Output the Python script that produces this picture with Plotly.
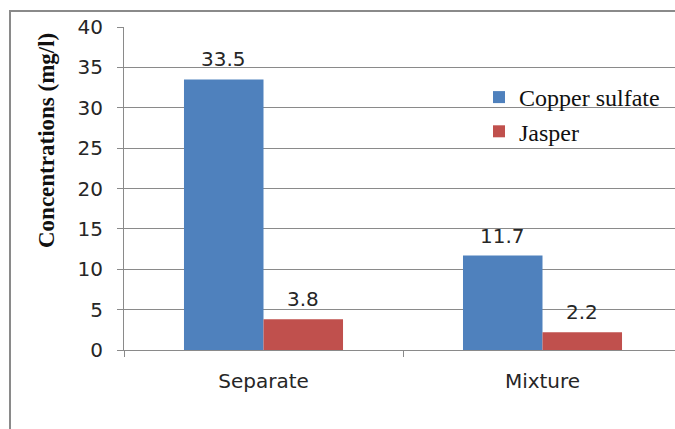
import plotly.graph_objects as go

categories = ["Separate", "Mixture"]
series_names = ["Copper sulfate", "Jasper"]
copper_sulfate = [33.5, 11.7]
jasper = [3.8, 2.2]
series_values = [copper_sulfate, jasper]
colors = ["#4F81BD", "#C0504D"]
y_ticks = [0, 5, 10, 15, 20, 25, 30, 35, 40]
y_title = "Concentrations (mg/l)"

W, H = 675, 429
ML, MR, MT, MB = 124, 0, 27, 79
bargap = 0.43
cat_px = 279.0
plot_w = W - ML - MR
plot_h = H - MT - MB

fig = go.Figure()
for name, vals, col in zip(series_names, series_values, colors):
    fig.add_trace(go.Bar(
        x=categories, y=vals, name=name, marker_color=col,
        marker_line_width=0,
    ))

# data labels
n = len(series_names)
grp = 1 - bargap
annotations = []
for k, vals in enumerate(series_values):
    off = -grp / 2 + grp / n * (k + 0.5)
    for i, v in enumerate(vals):
        annotations.append(dict(
            x=i + off, y=v, xref="x", yref="y", text=f"{v:.1f}",
            showarrow=False, yanchor="bottom", yshift=6,
            font=dict(family="DejaVu Sans", size=20, color="#262626"),
        ))

# y-axis title (placed like the original, above the axis centre)
annotations.append(dict(
    x=(46 - ML) / plot_w, y=(350 - 141) / plot_h, xref="paper", yref="paper",
    text=f"<b>{y_title}</b>", textangle=-90, showarrow=False,
    xanchor="center", yanchor="middle",
    font=dict(family="Liberation Serif", size=23, color="#111"),
))

grid = "#8a8a8a"
fig.update_layout(
    width=W, height=H,
    margin=dict(l=ML, r=MR, t=MT, b=MB, pad=0),
    paper_bgcolor="white", plot_bgcolor="white",
    barmode="group", bargap=bargap, bargroupgap=0,
    annotations=annotations,
    legend=dict(
        x=(479 - ML) / plot_w, y=(350 - 75) / plot_h,
        xanchor="left", yanchor="top",
        font=dict(family="Liberation Serif", size=24, color="#111"),
        bgcolor="rgba(0,0,0,0)", tracegroupgap=0,
        itemwidth=30,
    ),
    shapes=[dict(
        type="rect", xref="paper", yref="paper",
        x0=(10 - ML) / plot_w, x1=1.3,
        y0=-1.0, y1=(350 - 11) / plot_h,
        line=dict(color="#8a8a8a", width=2), fillcolor="rgba(0,0,0,0)",
        layer="below",
    )],
)

fig.update_xaxes(
    type="category", range=[-0.5, -0.5 + plot_w / cat_px],
    showline=True, linecolor=grid, linewidth=1,
    ticks="outside", tickson="boundaries", ticklen=6, tickcolor=grid,
    tickfont=dict(family="DejaVu Sans", size=20, color="#262626"),
    ticklabelstandoff=13, showgrid=False, zeroline=False,
)
fig.update_yaxes(
    range=[0, 40], tickvals=y_ticks,
    showline=True, linecolor=grid, linewidth=1,
    ticks="outside", ticklen=6, tickcolor=grid,
    showgrid=True, gridcolor=grid, gridwidth=1, zeroline=False,
    tickfont=dict(family="DejaVu Sans", size=20, color="#262626"),
    ticklabelstandoff=10,
)

fig.write_html("out.html")
